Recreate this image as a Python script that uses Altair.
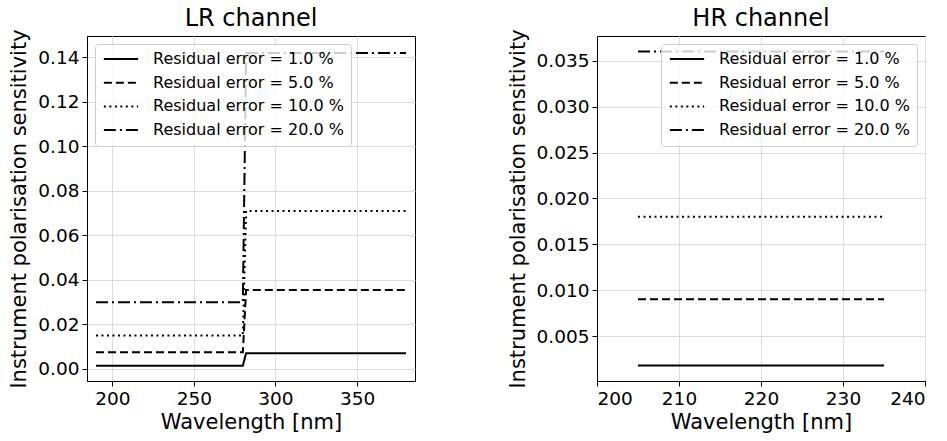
import altair as alt
import pandas as pd

# Residual polarisation error levels and the resulting instrument sensitivity
residual_errors = [1.0, 5.0, 10.0, 20.0]

# LR channel: step change in sensitivity around 280 nm
lr_wavelength = [190, 280, 282, 380]
lr_below = [0.0015, 0.0075, 0.015, 0.030]
lr_above = [0.0071, 0.0355, 0.071, 0.142]

# HR channel: flat sensitivity across the band
hr_wavelength = [205, 235]
hr_level = [0.0018, 0.009, 0.018, 0.036]

labels = [f"Residual error = {e:.1f} %" for e in residual_errors]
dashes = [[1, 0], [8, 4], [2, 3.5], [12, 4, 2, 4]]

lr_rows = []
for lab, lo, hi in zip(labels, lr_below, lr_above):
    for w, v in zip(lr_wavelength, [lo, lo, hi, hi]):
        lr_rows.append({"wavelength": w, "sensitivity": v, "series": lab})
lr_df = pd.DataFrame(lr_rows)

hr_rows = []
for lab, v in zip(labels, hr_level):
    for w in hr_wavelength:
        hr_rows.append({"wavelength": w, "sensitivity": v, "series": lab})
hr_df = pd.DataFrame(hr_rows)

FONT = "DejaVu Sans"

axis_style = dict(
    labelFont=FONT, labelFontSize=18.5, labelColor="black",
    titleFont=FONT, titleFontSize=21, titleFontWeight="normal", titleColor="black",
    tickColor="black", tickSize=5, tickWidth=1, labelPadding=3,
    domainColor="black", gridColor="#dcdcdc", gridWidth=1,
)


def legend(orient):
    return alt.Legend(
        title=None, orient=orient, offset=8, padding=7,
        fillColor="rgba(255,255,255,0.8)", strokeColor="#cccccc", cornerRadius=3,
        symbolType="M-2.45,0L2.45,0", symbolSize=196, symbolStrokeWidth=2,
        symbolStrokeColor="black", symbolOffset=11, labelOffset=24,
        labelFont=FONT, labelFontSize=16, labelColor="black", labelLimit=400,
        rowPadding=7.7,
    )


def panel(df, title, xdom, xvals, ydom, yvals, yfmt, orient):
    return alt.Chart(df).mark_line(color="black", strokeWidth=2, clip=True).encode(
        x=alt.X("wavelength:Q", title="Wavelength [nm]",
                scale=alt.Scale(domain=xdom, nice=False, zero=False),
                axis=alt.Axis(values=xvals, format="d", **axis_style)),
        y=alt.Y("sensitivity:Q", title="Instrument polarisation sensitivity",
                scale=alt.Scale(domain=ydom, nice=False, zero=False),
                axis=alt.Axis(values=yvals, format=yfmt, titlePadding=8, **axis_style)),
        strokeDash=alt.StrokeDash("series:N",
                                  scale=alt.Scale(domain=labels, range=dashes),
                                  legend=legend(orient)),
    ).properties(
        width=328, height=345,
        view=alt.ViewConfig(stroke="black", strokeWidth=1),
        title=alt.Title(title, font=FONT, fontSize=24, fontWeight="normal",
                        color="black", offset=-2),
    )


left = panel(lr_df, "LR channel", [184.5, 385.5], [200, 250, 300, 350],
             [-0.0054, 0.1496], [0.0, 0.02, 0.04, 0.06, 0.08, 0.10, 0.12, 0.14],
             ".2f", "top-left")
right = panel(hr_df, "HR channel", [200, 240], [200, 210, 220, 230, 240],
              [0.0001, 0.0377], [0.005, 0.010, 0.015, 0.020, 0.025, 0.030, 0.035],
              ".3f", "top-right")

chart = alt.hconcat(left, right, spacing=90).resolve_scale(
    strokeDash="independent"
).resolve_legend(
    strokeDash="independent"
).configure(
    padding={"left": 8, "top": 6, "right": 0, "bottom": 0},
    background="white",
).configure_view(
    stroke="black", strokeWidth=1,
)

chart.save("out.html", embed_options={"renderer": "svg", "actions": False})
